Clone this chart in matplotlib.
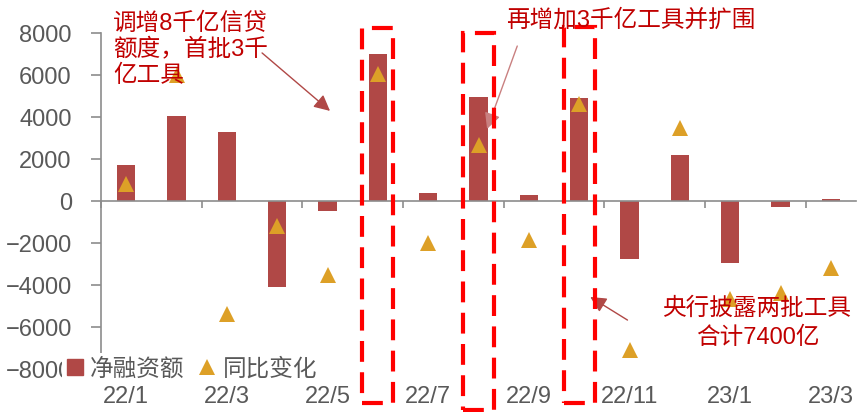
import matplotlib
matplotlib.use('Agg')
import matplotlib.pyplot as plt
from matplotlib.patches import Rectangle, Patch
from matplotlib.lines import Line2D
import matplotlib.transforms as mtransforms

plt.rcParams['font.family'] = ['Liberation Sans', 'Noto Sans CJK SC']

months = ['22/1', '22/2', '22/3', '22/4', '22/5', '22/6', '22/7', '22/8',
          '22/9', '22/10', '22/11', '22/12', '23/1', '23/2', '23/3']
net = [1700, 4050, 3270, -4100, -460, 7000, 380, 4940, 300, 4900,
       -2750, 2200, -2950, -290, 100]
yoy = [800, 6000, -5400, -1200, -3500, 6050, -2000, 2650, -1850, 4600,
       -7100, 3500, -4650, -4400, -3200]
boxed = ['22/6', '22/8', '22/10']

bar_c = '#B04846'
tri_c = '#DDA027'
txt_c = '#C00000'
grey = '#595959'
axis_c = '#8C8C8C'

fig = plt.figure(figsize=(8.58, 4.12), dpi=100)
ax = fig.add_axes([101/858, 1-369/412, 755/858, 336/412])

x = list(range(len(months)))
ax.bar(x, net, width=0.36, color=bar_c, zorder=2)
ax.plot(x, yoy, '^', color=tri_c, markersize=11.5, markeredgewidth=0, zorder=3)

ax.set_xlim(-0.5, len(months) - 0.5)
ax.set_ylim(-8000, 8000)
ax.set_yticks(range(-8000, 8001, 2000))
ax.tick_params(axis='y', length=7, width=1.2, color=axis_c, pad=14,
               labelsize=17, labelcolor=grey)

for s in ['top', 'right']:
    ax.spines[s].set_visible(False)
ax.spines['left'].set_color(axis_c)
ax.spines['left'].set_linewidth(1.2)
ax.spines['bottom'].set_position(('data', 0))
ax.spines['bottom'].set_color(axis_c)
ax.spines['bottom'].set_linewidth(1.2)
ax.set_xticks([i - 0.5 for i in range(0, len(months), 2)])
ax.set_xticklabels([])
ax.tick_params(axis='x', length=5, width=1.2, color=axis_c, direction='out')

trans = mtransforms.blended_transform_factory(ax.transData, fig.transFigure)
for i in range(0, len(months), 2):
    ax.text(i, 1-397/412, months[i], transform=trans, ha='center', va='center',
            fontsize=17, color=grey)

# dashed boxes round the policy months
for m, top, bottom in zip(boxed, [8240, 8000, 8290], [-9620, -9950, -9620]):
    i = months.index(m)
    r = Rectangle((i - 0.31, bottom), 0.62, top - bottom, fill=False,
                  edgecolor='#FF0000', linewidth=3, linestyle=(0, (5, 2.5)),
                  clip_on=False, zorder=4)
    ax.add_patch(r)

arrow = dict(arrowstyle='-|>', mutation_scale=24, color=bar_c, lw=1,
             shrinkA=0, shrinkB=0)
ax.text(-0.26, 7190, '调增8千亿信贷\n额度，首批3千\n亿工具', ha='left', va='center',
        fontsize=17, color=txt_c, linespacing=1.2)
ax.annotate('', xy=(4.05, 4290), xytext=(2.7, 7050), arrowprops=arrow)
ax.annotate('', xy=(7.17, 3430), xytext=(7.77, 7380),
            arrowprops=dict(arrow, color='#C98080'))
ax.text(10.02, 8620, '再增加3千亿工具并扩围', ha='center', va='center', fontsize=17,
        color=txt_c, zorder=5)
ax.annotate('', xy=(9.22, -4570), xytext=(9.96, -5670), arrowprops=arrow)
ax.text(12.54, -5830, '央行披露两批工具\n合计7400亿', ha='center', va='center',
        fontsize=17, color=txt_c, linespacing=1.4)

handles = [Patch(color=bar_c),
           Line2D([], [], marker='^', color=tri_c, linestyle='', markersize=12,
                  markeredgewidth=0)]
leg = fig.legend(handles, ['净融资额', '同比变化'], loc='lower left',
                 bbox_to_anchor=(62/858, 1-385/412), ncol=2, frameon=True,
                 fontsize=17, handlelength=0.7, handleheight=0.7,
                 handletextpad=0.3, columnspacing=0.6, borderpad=0.2,
                 borderaxespad=0)
leg.get_frame().set_edgecolor('none')
leg.get_frame().set_facecolor('white')
leg.get_frame().set_alpha(1)
for t in leg.get_texts():
    t.set_color(grey)

fig.savefig('out.png', dpi=100)
